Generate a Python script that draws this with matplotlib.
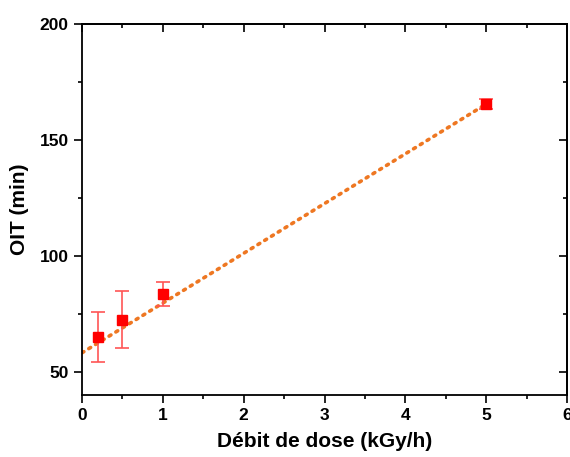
import matplotlib
matplotlib.use("Agg")
import matplotlib.pyplot as plt
import numpy as np
from matplotlib.ticker import MultipleLocator

plt.rcParams["font.family"] = ["Liberation Sans", "DejaVu Sans"]
plt.rcParams["font.weight"] = "bold"

# ── data ──────────────────────────────────────────────────────────────────────
dose_rate = [0.2, 0.5, 1.0, 5.0]          # kGy/h
oit = [65.0, 72.5, 83.7, 165.5]           # min
oit_err = [10.6, 12.2, 5.2, 2.0]          # min

fit_intercept = 58.2
fit_slope = 21.45
fit_range = [0.0, 5.0]

# ── plot ──────────────────────────────────────────────────────────────────────
fig = plt.figure(figsize=(5.7, 4.57), dpi=100)
ax = fig.add_axes([0.1439, 0.1357, 0.8508, 0.8118])

xf = np.array(fit_range)
ax.plot(xf, fit_intercept + fit_slope * xf, color="#EE7722", linestyle=(0, (0.6, 1.6)),
        linewidth=2.6, dash_capstyle="round", zorder=2)

ax.errorbar(dose_rate, oit, yerr=oit_err, fmt="s", color="#FF0000", markersize=6.5,
            ecolor="#FF5555", elinewidth=1.2, capsize=5, capthick=1.2, zorder=3)

ax.set_xlim(0, 6)
ax.set_ylim(40, 200)
ax.xaxis.set_major_locator(MultipleLocator(1))
ax.xaxis.set_minor_locator(MultipleLocator(0.5))
ax.yaxis.set_major_locator(MultipleLocator(50))
ax.yaxis.set_minor_locator(MultipleLocator(25))

ax.tick_params(which="both", direction="out", width=1.2, labelsize=12.5)
ax.tick_params(which="major", length=6)
ax.tick_params(which="minor", length=3)
for sp in ax.spines.values():
    sp.set_linewidth(1.3)

# inward ticks on top and right
for side in ("top", "right"):
    sec = ax.secondary_xaxis("top") if side == "top" else ax.secondary_yaxis("right")
    axis = sec.xaxis if side == "top" else sec.yaxis
    axis.set_major_locator(MultipleLocator(1 if side == "top" else 50))
    axis.set_minor_locator(MultipleLocator(0.5 if side == "top" else 25))
    sec.tick_params(which="both", direction="in", width=1.2, labelsize=0,
                    labeltop=False, labelright=False)
    sec.tick_params(which="major", length=6)
    sec.tick_params(which="minor", length=3)
    for s in sec.spines.values():
        s.set_linewidth(1.3)

ax.set_xlabel("Débit de dose (kGy/h)", fontsize=15, fontweight="bold", labelpad=6)
ax.set_ylabel("OIT (min)", fontsize=15, fontweight="bold", labelpad=8)

fig.savefig("out.png", dpi=100)
